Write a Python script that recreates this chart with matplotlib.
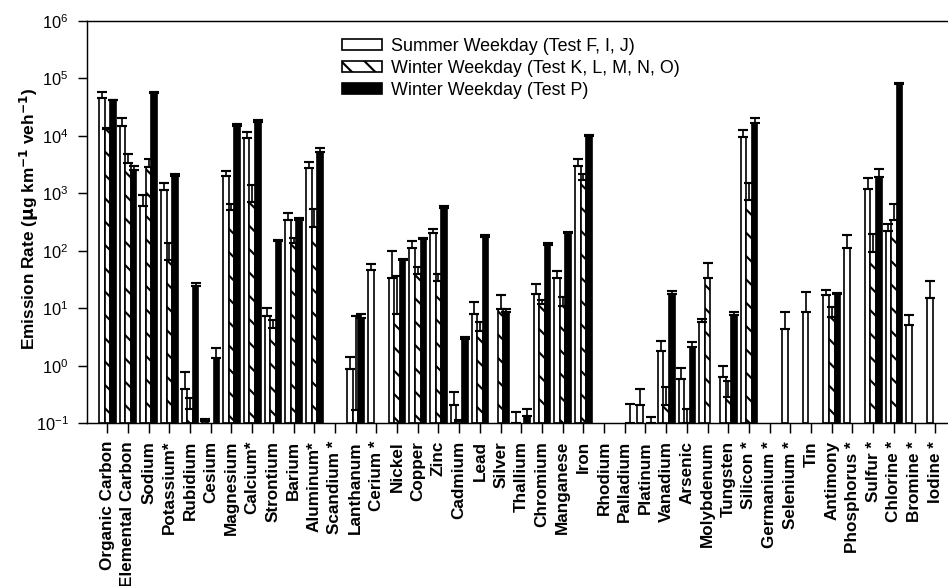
import numpy as np
import matplotlib
matplotlib.use("Agg")
import matplotlib.pyplot as plt

plt.rcParams['font.family'] = ['Liberation Sans', 'DejaVu Sans']
plt.rcParams['mathtext.default'] = 'regular'
plt.rcParams['hatch.linewidth'] = 1.1

nan = np.nan

elements = ["Organic Carbon", "Elemental Carbon", "Sodium", "Potassium*", "Rubidium",
            "Cesium", "Magnesium", "Calcium*", "Strontium", "Barium", "Aluminum*",
            "Scandium *", "Lanthanum", "Cerium *", "Nickel", "Copper", "Zinc",
            "Cadmium", "Lead", "Silver", "Thallium", "Chromium", "Manganese", "Iron",
            "Rhodium", "Palladium", "Platinum", "Vanadium", "Arsenic", "Molybdenum",
            "Tungsten", "Silicon *", "Germanium *", "Selenium *", "Tin", "Antimony",
            "Phosphorus *", "Sulfur *", "Chlorine *", "Bromine *", "Iodine *"]

# Summer Weekday (Test F, I, J)
summer = [46000, 15000, 600, 1150, 0.40, 0.11, 2000, 9000, 7.4, 340, 2800,
          nan, 0.88, 47, 33, 110, 205, 0.21, 7.9, nan, 0.1, 18, 34, 3000,
          nan, nan, 0.21, 1.8, 0.59, 5.8, 0.63, 9600, nan, 4.4, 8.7, 17,
          113, 1200, 220, 5.1, 14.9]
summer_err = [11500, 5500, 350, 350, 0.38, 0.008, 450, 2500, 2.8, 110, 700,
              nan, 0.52, 13, 66, 38, 35, 0.14, 5.1, nan, 0.06, 8, 11, 900,
              nan, nan, 0.18, 0.9, 0.33, 0.8, 0.36, 2900, nan, 4.3, 10.3, 3.5,
              73, 660, 70, 2.5, 15]

# Winter Weekday (Test K, L, M, N, O)
winter = [13000, 3300, 2900, 70, 0.18, nan, 520, 710, 4.5, 135, 260,
          nan, 0.17, nan, 8.1, 40, 30, 0.11, 4.0, 9.8, nan, 12, 11, 1700,
          nan, nan, nan, 0.21, 0.1, 33, 0.29, 760, nan, nan, nan, 7.1,
          nan, 96, 342, nan, nan]
winter_err = [500, 1500, 1100, 65, 0.10, nan, 140, 670, 1.7, 35, 270,
              nan, 7.1, nan, 28, 12, 10, 0.005, 1.7, 7.2, nan, 2, 5, 500,
              nan, nan, nan, 0.21, 0.08, 29, 0.25, 740, nan, nan, nan, 3.6,
              nan, 97, 318, nan, nan]

# Winter Weekday (Test P)
winter_p = [41000, 2500, 55000, 2000, 24, 1.35, 14500, 17500, 150, 340, 5300,
            nan, 6.9, nan, 69, 158, 546, 2.9, 175, 8.7, 0.133, 126, 205, 9900,
            nan, 0.1, 0.1, 18, 2.1, nan, 7.6, 16400, nan, nan, nan, 17.4,
            nan, 1900, 79000, nan, nan]
winter_p_err = [1000, 500, 3000, 150, 3, 0.65, 1300, 1000, 5, 30, 700,
                nan, 1.1, nan, 3, 12, 54, 0.3, 15, 0.9, 0.047, 9, 10, 600,
                nan, 0.12, 0.03, 2, 0.45, nan, 1.0, 3600, nan, nan, nan, 1.1,
                nan, 700, 4000, nan, nan]

labels = ["Summer Weekday (Test F, I, J)", "Winter Weekday (Test K, L, M, N, O)",
          "Winter Weekday (Test P)"]

BASE = 0.1
DPI = 140


def main():
    fig = plt.figure(figsize=(948 / DPI, 586 / DPI), dpi=DPI)
    ax = fig.add_axes([86.7 / 948, 162.7 / 586, 861.3 / 948, 402.6 / 586])
    ax.set_yscale('log')

    x = np.arange(len(elements))
    w = 0.27
    series = [(summer, summer_err, 'white', ''),
              (winter, winter_err, 'white', '\\\\'),
              (winter_p, winter_p_err, 'black', '')]

    for k, (vals, errs, fc, hatch) in enumerate(series):
        vals = np.array(vals, dtype=float)
        errs = np.array(errs, dtype=float)
        xpos = x + (k - 1) * w
        heights = vals - BASE
        heights[heights <= 0] = nan
        ax.bar(xpos, heights, bottom=BASE, width=w, color=fc, edgecolor='black',
               linewidth=0.86, hatch=hatch, label=labels[k], zorder=2)
        ax.errorbar(xpos, vals, yerr=[np.zeros_like(errs), errs], fmt='none',
                    ecolor='black', elinewidth=0.86, capsize=2.4, capthick=1.1,
                    zorder=3)

    ax.set_xlim((86.7 - 107.3) / 20.7, (948 - 107.3) / 20.7)
    ax.set_ylim(0.1, 1e6)
    ax.set_yticks([10.0 ** p for p in range(-1, 7)])
    ax.yaxis.set_minor_locator(matplotlib.ticker.NullLocator())
    ax.set_xticks(x)
    ax.set_xticklabels(elements, rotation=90, fontweight='bold', fontsize=8.8)

    ax.tick_params(axis='y', direction='out', length=4.5, width=0.75, pad=4.8,
                   labelsize=8.4)
    ax.tick_params(axis='x', direction='out', length=5.1, width=0.75, pad=4.0)
    ax.spines['right'].set_visible(False)
    for s in ['left', 'bottom', 'top']:
        ax.spines[s].set_linewidth(0.75)

    ax.set_ylabel(r'Emission Rate ($\mathbf{\mu}$g km$^{\mathbf{-1}}$ veh$^{\mathbf{-1}}$)',
                  fontweight='bold', fontsize=8.9)
    ax.yaxis.set_label_coords(-0.0536, 0.507)

    ax.legend(loc='upper left', bbox_to_anchor=(342 / 948, 1 - 38 / 586),
              bbox_transform=fig.transFigure, frameon=False, fontsize=9.2,
              handlelength=2.25, handleheight=0.55, labelspacing=0.27,
              handletextpad=0.5, borderpad=0, borderaxespad=0)

    fig.savefig("out.png", dpi=DPI)


if __name__ == "__main__":
    main()
